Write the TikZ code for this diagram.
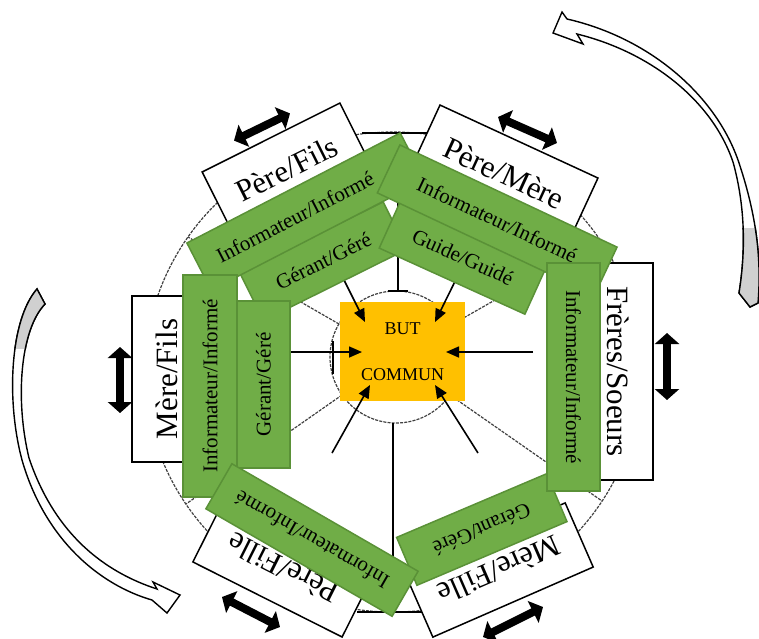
\documentclass[tikz,border=0pt]{standalone}
\usepackage{fontspec}
\setmainfont{Liberation Serif}
\usetikzlibrary{arrows.meta}

\definecolor{linkfill}{HTML}{70AD47}
\definecolor{linkedge}{HTML}{5A9137}
\definecolor{goalfill}{HTML}{FFC000}
\definecolor{turnfill}{HTML}{D0D0D0}

\tikzstyle{role-box}=[draw, line width=1.5pt, fill=white, inner sep=0pt, minimum height=70pt, font=\fontsize{31}{34}\selectfont]
\tikzstyle{link-box}=[draw=linkedge, line width=1.5pt, fill=linkfill, inner sep=0pt, minimum height=53pt, font=\fontsize{21}{24}\selectfont]
\tikzstyle{goal-box}=[fill=goalfill, minimum width=125pt, minimum height=99pt, inner sep=0pt, align=center, font=\fontsize{18}{46}\selectfont]
\tikzstyle{swap-arrow}=[line width=8pt, {Triangle[width=24pt,length=11pt]}-{Triangle[width=24pt,length=11pt]}]
\tikzstyle{goal-arrow}=[line width=1.6pt, -{Triangle[width=11pt,length=13pt]}]
\tikzstyle{wheel-dash}=[line width=1.2pt, black!75, dash pattern=on 3pt off 1.2pt]
\tikzstyle{wheel-line}=[line width=1.3pt]
\tikzstyle{turn-arrow}=[draw, line width=1.4pt, fill=white]

\def\turnright{(567,19) .. controls (650,38) and (715,95) .. (738,160) .. controls (755,210) and (762,255) .. (758,303) -- (750,307) -- (739,293) .. controls (746,250) and (745,205) .. (733,162) .. controls (712,100) and (650,52) .. (577,34) -- (583,44) -- (553,33) -- (562,12) -- cycle}
\def\turnleft{(37,289) .. controls (10,320) and (6,400) .. (22,460) .. controls (45,540) and (100,585) .. (152,600) -- (167,613) -- (180,595) -- (153,582) -- (157,589) .. controls (105,572) and (55,535) .. (29,458) .. controls (15,400) and (20,330) .. (45,304) -- cycle}

\begin{document}
\begin{tikzpicture}[x=1pt, y=-1pt]
      \useasboundingbox (0,0) rectangle (759,638);

      \draw[wheel-dash] (393,372) ellipse [x radius=248, y radius=240];
      \draw[wheel-dash] (396,357) circle [radius=66];
      \draw[wheel-dash] (339,324) -- (188,237);
      \draw[wheel-dash] (453,324) -- (600,240);
      \draw[wheel-dash] (342,395) -- (186,504);
      \draw[wheel-dash] (450,395) -- (602,501);
      \draw[wheel-line] (398,291) -- (398,133);
      \draw[wheel-line] (388,291) -- (408,291);
      \draw[wheel-line] (362,133) -- (428,133);
      \draw[wheel-line] (393,423) -- (393,612);
      \draw[wheel-line] (357,612) -- (422,612);
      \draw[wheel-line] (333,341) -- (333,374);

      \node (goal) at (402.5, 351.5) [goal-box] {BUT\\COMMUN};

      \coordinate (from-ul) at (333, 258);
      \coordinate (from-ur) at (468, 255);
      \coordinate (from-l) at (290, 352);
      \coordinate (from-r) at (533, 352);
      \coordinate (from-ll) at (332, 453);
      \coordinate (from-lr) at (478, 453);
      \coordinate (to-ul) at (365, 322);
      \coordinate (to-ur) at (435, 322);
      \coordinate (to-l) at (362, 352);
      \coordinate (to-r) at (446, 352);
      \coordinate (to-ll) at (370, 385);
      \coordinate (to-lr) at (435, 385);
      \draw[goal-arrow] (from-ul) -- (to-ul);
      \draw[goal-arrow] (from-ur) -- (to-ur);
      \draw[goal-arrow] (from-l) -- (to-l);
      \draw[goal-arrow] (from-r) -- (to-r);
      \draw[goal-arrow] (from-ll) -- (to-ll);
      \draw[goal-arrow] (from-lr) -- (to-lr);

      \node (pere-fils) at (286.7, 168.8)
            [role-box, minimum width=154pt, rotate=26.6] {Père/Fils};
      \node (pere-mere) at (504.3, 173.3)
            [role-box, minimum width=174pt, rotate=-24.8] {Père/Mère};
      \node (mere-fils) at (167, 379)
            [role-box, minimum width=166pt, rotate=90] {Mère/Fils};
      \node (freres-soeurs) at (618, 371.5)
            [role-box, minimum width=217pt, rotate=-90] {Frères/Soeurs};
      \node (pere-fille) at (283.2, 568.2)
            [role-box, minimum width=167pt, rotate=153.3] {Père/Fille};
      \node (mere-fille) at (499, 570)
            [role-box, minimum width=175pt, rotate=-156.4] {Mère/Fille};

      \node (pf-gerant) at (323.3, 261.2)
            [link-box, minimum width=160pt, rotate=26.4] {Gérant/Géré};
      \node (pf-info) at (305.7, 211.5)
            [link-box, minimum width=240pt, rotate=27.3] {Informateur/Informé\hspace*{24pt}};
      \node (pm-guide) at (463, 257)
            [link-box, minimum width=160pt, rotate=-24.4] {Guide/Guidé};
      \node (pm-info) at (497.2, 220)
            [link-box, minimum width=240pt, rotate=-25.2] {Informateur/Informé};
      \node (mf-gerant) at (263.5, 384.5)
            [link-box, minimum width=167pt, rotate=90] {Gérant/Géré};
      \node (mf-info) at (210, 386)
            [link-box, minimum width=222pt, minimum height=54pt, rotate=90] {Informateur/Informé};
      \node (mfi-gerant) at (481.8, 529.5)
            [link-box, minimum width=163pt, minimum height=52pt, rotate=-157] {Gérant/Géré};
      \node (pfi-info) at (312, 540)
            [link-box, minimum width=215pt, minimum height=52pt, rotate=150] {Informateur/Informé};
      \node (fs-info) at (573.5, 377)
            [link-box, minimum width=228pt, rotate=-90] {Informateur/Informé};

      \coordinate (pf-a) at (234, 140.6);
      \coordinate (pf-b) at (290, 113.4);
      \coordinate (pm-a) at (498, 117);
      \coordinate (pm-b) at (557, 143);
      \coordinate (mf-a) at (120, 347);
      \coordinate (mf-b) at (120, 413);
      \coordinate (fs-a) at (667, 333);
      \coordinate (fs-b) at (667, 400);
      \coordinate (pfi-a) at (222, 597);
      \coordinate (pfi-b) at (280, 627);
      \coordinate (mfi-a) at (483, 637);
      \coordinate (mfi-b) at (543, 607);
      \draw[swap-arrow] (pf-a) -- (pf-b);
      \draw[swap-arrow] (pm-a) -- (pm-b);
      \draw[swap-arrow] (mf-a) -- (mf-b);
      \draw[swap-arrow] (fs-a) -- (fs-b);
      \draw[swap-arrow] (pfi-a) -- (pfi-b);
      \draw[swap-arrow] (mfi-a) -- (mfi-b);

      \draw[turn-arrow] \turnright;
      \begin{scope}
            \clip (700,228) rectangle (770,320);
            \draw[turn-arrow, fill=turnfill] \turnright;
      \end{scope}
      \draw[turn-arrow] \turnleft;
      \begin{scope}
            \clip (0,280) rectangle (60,348);
            \draw[turn-arrow, fill=turnfill] \turnleft;
      \end{scope}
    \end{tikzpicture}
\end{document}
